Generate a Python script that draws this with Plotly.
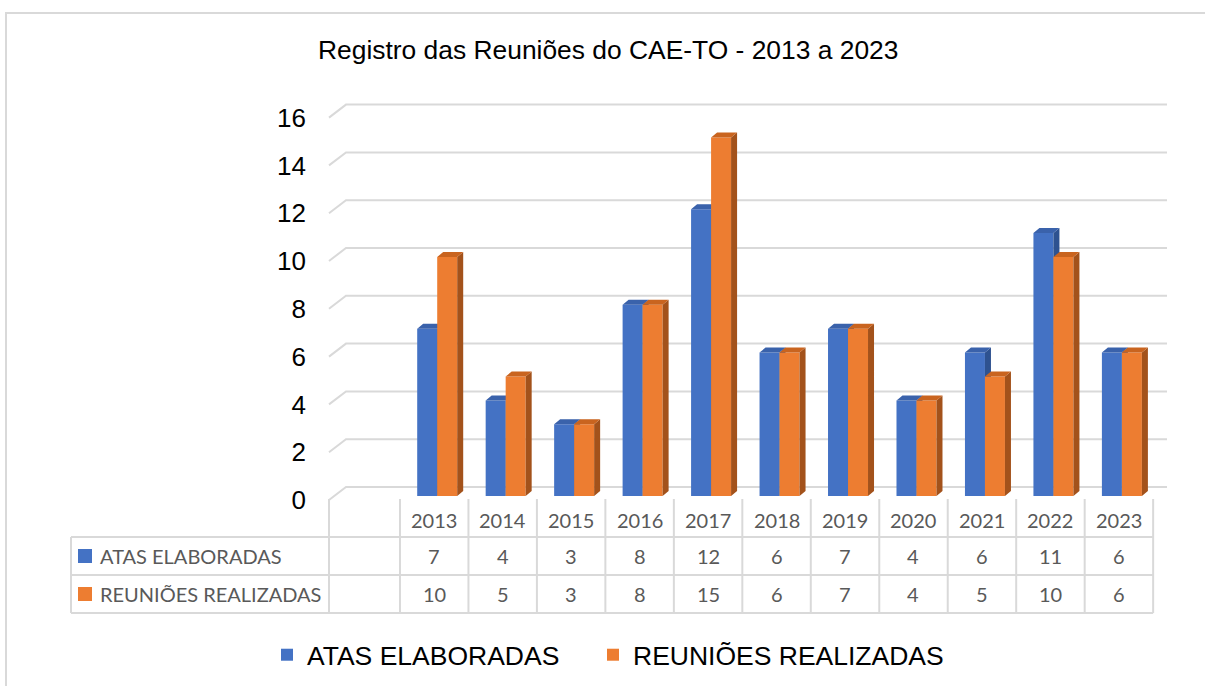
import plotly.graph_objects as go

# ---------------- data ----------------
anos = ["2013", "2014", "2015", "2016", "2017", "2018", "2019", "2020", "2021", "2022", "2023"]
atas_elaboradas = [7, 4, 3, 8, 12, 6, 7, 4, 6, 11, 6]
reunioes_realizadas = [10, 5, 3, 8, 15, 6, 7, 4, 5, 10, 6]
y_ticks = [0, 2, 4, 6, 8, 10, 12, 14, 16]
serie_nomes = ["ATAS ELABORADAS", "REUNIÕES REALIZADAS"]
titulo = "Registro das Reuniões do CAE-TO - 2013 a 2023"

# ---------------- geometry / style ----------------
W, H = 1205, 686
X0, CW = 434.2, 68.47        # px of first column centre, column width px
Y0, YS = 496.0, 23.9         # px of bar base, px per unit
BW = 20 / CW                 # bar width (x units)
DX = 6 / CW                  # 3D depth x
DY = 5 / YS                  # 3D depth y
OFFS = [(417.2 - X0) / CW, (437.2 - X0) / CW]
FRONT = ["#4472C4", "#ED7D31"]
TOP = ["#3A62AB", "#C9641F"]
SIDE = ["#2E5290", "#A3521B"]
GRID = "#D9D9D9"
TXT = "#595959"


def px2x(p):
    return (p - X0) / CW


def py2paper(p):
    return 1 - p / H


def px2paper(p):
    return p / W


idx = list(range(len(anos)))
series = [atas_elaboradas, reunioes_realizadas]
yref_of = ["y2", "y3"]

fig = go.Figure()

# gridlines (3D back wall) on base subplot
gx, gy = [], []
for v in y_ticks:
    gx += [px2x(329), px2x(346), px2x(1167), None]
    gy += [v - 4 / YS, v + 9 / YS, v + 9 / YS, None]
fig.add_trace(go.Scatter(x=gx, y=gy, mode="lines", line=dict(color=GRID, width=2),
                         hoverinfo="skip", showlegend=False))

# bars with 3D faces, one overlay subplot per series (layering)
legends = ["legend", "legend2"]
for s, vals in enumerate(series):
    fig.add_trace(go.Bar(x=idx, y=vals, width=BW, offset=OFFS[s], name=serie_nomes[s],
                         yaxis=yref_of[s], legend=legends[s],
                         marker=dict(color=FRONT[s], line=dict(width=0))))
    sx, sy, tx, ty = [], [], [], []
    for i, v in zip(idx, vals):
        xl = i + OFFS[s]
        xr = xl + BW
        sx += [xr, xr, xr + DX, xr + DX, xr, None]
        sy += [0, v, v + DY, DY, 0, None]
        tx += [xl, xr, xr + DX, xl + DX, xl, None]
        ty += [v, v, v + DY, v + DY, v, None]
    fig.add_trace(go.Scatter(x=sx, y=sy, yaxis=yref_of[s], mode="lines", fill="toself", fillcolor=SIDE[s],
                             line=dict(width=0, color=SIDE[s]), hoverinfo="skip", showlegend=False))
    fig.add_trace(go.Scatter(x=tx, y=ty, yaxis=yref_of[s], mode="lines", fill="toself", fillcolor=TOP[s],
                             line=dict(width=0, color=TOP[s]), hoverinfo="skip", showlegend=False))

# invisible trace to activate the tick-label axis
fig.add_trace(go.Scatter(x=[None], y=[None], yaxis="y4", showlegend=False, hoverinfo="skip"))

shapes = []
ann = []

# outer chart border
shapes.append(dict(type="rect", xref="paper", yref="paper", x0=px2paper(6), x1=px2paper(1230),
                   y0=py2paper(13), y1=py2paper(720), line=dict(color=GRID, width=2)))

# data table lines
for yy in [537, 575, 613]:
    shapes.append(dict(type="line", xref="paper", yref="paper", x0=px2paper(71), x1=px2paper(X0 + CW * (len(anos) - 0.5)),
                       y0=py2paper(yy), y1=py2paper(yy), line=dict(color=GRID, width=2)))
shapes.append(dict(type="line", xref="paper", yref="paper", x0=px2paper(71), x1=px2paper(71),
                   y0=py2paper(537), y1=py2paper(613), line=dict(color=GRID, width=2)))
shapes.append(dict(type="line", xref="x", yref="paper", x0=px2x(329), x1=px2x(329),
                   y0=py2paper(499), y1=py2paper(613), line=dict(color=GRID, width=2)))
for k in range(len(anos) + 1):
    shapes.append(dict(type="line", xref="x", yref="paper", x0=k - 0.5, x1=k - 0.5,
                       y0=py2paper(499), y1=py2paper(613), line=dict(color=GRID, width=2)))

tfont = dict(family="Lato", size=20, color=TXT)
for i, a in zip(idx, anos):
    ann.append(dict(x=i, y=py2paper(520), xref="x", yref="paper", text=a, showarrow=False,
                    font=tfont, xanchor="center", yanchor="middle"))
for s, (vals, yy) in enumerate(zip(series, [556, 594])):
    for i, v in zip(idx, vals):
        ann.append(dict(x=i, y=py2paper(yy), xref="x", yref="paper", text=str(v), showarrow=False,
                        font=tfont, xanchor="center", yanchor="middle"))
    ann.append(dict(x=px2paper(98), y=py2paper(yy), xref="paper", yref="paper", text=serie_nomes[s],
                    showarrow=False, font=tfont, xanchor="left", yanchor="middle"))
    shapes.append(dict(type="rect", xref="paper", yref="paper", x0=px2paper(78), x1=px2paper(92),
                       y0=py2paper(yy - 7), y1=py2paper(yy + 7), fillcolor=FRONT[s], line=dict(width=0)))

# title
ann.append(dict(x=px2paper(608), y=py2paper(50), xref="paper", yref="paper", text=titulo, showarrow=False,
                font=dict(family="Liberation Sans", size=26.4, color="#000000"), xanchor="center", yanchor="middle"))

yr = [(Y0 - H) / YS, Y0 / YS]
hidden = dict(range=yr, domain=[0, 1], visible=False, fixedrange=True)
lfont = dict(family="Liberation Sans", size=26.5, color="#000000")
fig.update_layout(
    width=W, height=H, margin=dict(l=0, r=0, t=0, b=0),
    paper_bgcolor="white", plot_bgcolor="rgba(0,0,0,0)",
    barmode="overlay", showlegend=True,
    xaxis=dict(range=[px2x(0), px2x(W)], domain=[0, 1], visible=False, fixedrange=True),
    yaxis=hidden,
    yaxis2=dict(hidden, overlaying="y"),
    yaxis3=dict(hidden, overlaying="y"),
    yaxis4=dict(overlaying="y", anchor="free", position=px2paper(306),
                range=[(Y0 + 4 - H) / YS, (Y0 + 4) / YS],
                tickvals=y_ticks, ticktext=[str(t) for t in y_ticks], ticks="",
                showgrid=False, zeroline=False, showline=False, fixedrange=True,
                tickfont=dict(family="Liberation Sans", size=26, color="#000000")),
    legend=dict(orientation="h", x=px2paper(267), xanchor="left", y=py2paper(655), yanchor="middle",
                font=lfont, bgcolor="rgba(0,0,0,0)"),
    legend2=dict(orientation="h", x=px2paper(593), xanchor="left", y=py2paper(655), yanchor="middle",
                 font=lfont, bgcolor="rgba(0,0,0,0)"),
    shapes=shapes, annotations=ann,
)

fig.write_html("out.html")
